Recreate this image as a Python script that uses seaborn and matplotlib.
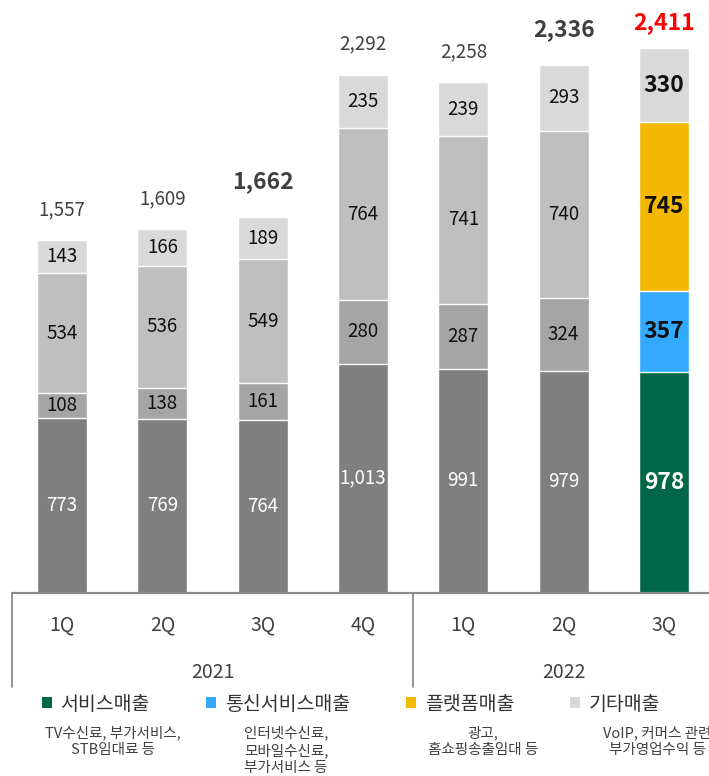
import matplotlib
matplotlib.use("Agg")
import matplotlib.pyplot as plt
from matplotlib.patches import Patch
import seaborn as sns
import pandas as pd
import numpy as np

# ---------------- data ----------------
periods = ["2021 1Q", "2021 2Q", "2021 3Q", "2021 4Q", "2022 1Q", "2022 2Q", "2022 3Q"]
quarter_labels = ["1Q", "2Q", "3Q", "4Q", "1Q", "2Q", "3Q"]
year_labels = ["2021", "2022"]
service = [773, 769, 764, 1013, 991, 979, 978]
telecom = [108, 138, 161, 280, 287, 324, 357]
platform = [534, 536, 549, 764, 741, 740, 745]
other = [143, 166, 189, 235, 239, 293, 330]
totals = [1557, 1609, 1662, 2292, 2258, 2336, 2411]
series_names = ["서비스매출", "통신서비스매출", "플랫폼매출", "기타매출"]
series_notes = ["TV수신료, 부가서비스,\nSTB임대료 등",
                "인터넷수신료,\n모바일수신료,\n부가서비스 등",
                "광고,\n홈쇼핑송출임대 등",
                "VoIP, 커머스 관련\n부가영업수익 등"]

# ---------------- style ----------------
sns.set_theme(style="white")
plt.rcParams["font.family"] = ["Noto Sans CJK KR", "DejaVu Sans"]

grey_cols = ["#7f7f7f", "#a5a5a5", "#bfbfbf", "#d9d9d9"]
hi_cols = ["#006847", "#33aaff", "#f5b800", "#d9d9d9"]
bold_totals = {2, 5}
red_totals = {6}
highlight = 6

W, H = 709, 776
fig = plt.figure(figsize=(W / 100, H / 100), dpi=100)
base_y = 592.5
ax = fig.add_axes([12 / W, (H - base_y) / H, 702 / W, base_y / H])

layers = [service, telecom, platform, other]
cum = np.cumsum(np.array(layers), axis=0)

df = pd.DataFrame({"period": periods})
# draw from the top layer downwards so lower segments overlap the taller bars
for li in range(3, -1, -1):
    df["h"] = cum[li]
    pal = [hi_cols[li] if i == highlight else grey_cols[li] for i in range(len(periods))]
    sns.barplot(data=df, x="period", y="h", hue="period", palette=pal, order=periods,
                hue_order=periods, width=0.5, errorbar=None, legend=False, saturation=1,
                edgecolor="white", linewidth=1.0, ax=ax)

ax.set_xlim(-0.5, 6.5)
ax.set_ylim(0, base_y / ((base_y - 47.7) / 2411))
for s in ax.spines.values():
    s.set_visible(False)
ax.set_ylabel("")
ax.set_xlabel("")
ax.set_yticks([])

# segment labels
for li in range(4):
    for i in range(len(periods)):
        v = layers[li][i]
        bottom = cum[li][i] - v
        emph = i == highlight
        col = "white" if li == 0 else "#111111"
        ax.text(i, bottom + v / 2, f"{v:,}", ha="center", va="center",
                fontsize=16.5 if emph else 13.5,
                fontweight="bold" if emph else "medium", color=col)

# totals
for i, t in enumerate(totals):
    if i in red_totals:
        off, fs, fw, col = 18, 16.5, "bold", "#ff0000"
    elif i in bold_totals:
        off, fs, fw, col = 25, 16.5, "bold", "#404040"
    else:
        off, fs, fw, col = 22, 13.5, "normal", "#404040"
    ax.annotate(f"{t:,}", (i, cum[3][i]), xytext=(0, off), textcoords="offset points",
                ha="center", va="center", fontsize=fs, fontweight=fw, color=col)

# axis line and group separators
line_col = "#8c8c8c"
ax.axhline(0, color=line_col, lw=1.6, clip_on=False, zorder=5)
drop = (687 - base_y) / base_y
for xv in (-0.5, 3.5, 6.5):
    ax.plot([xv, xv], [0, -drop], transform=ax.get_xaxis_transform(), color=line_col,
            lw=1.3, clip_on=False)

ax.set_xticks(range(len(periods)))
ax.set_xticklabels(quarter_labels, fontsize=14, color="#404040")
ax.tick_params(axis="x", length=0, pad=16)

year_y = -(672 - base_y) / base_y
ax.text(1.5, year_y, year_labels[0], transform=ax.get_xaxis_transform(), ha="center",
        va="center", fontsize=14, color="#404040")
ax.text(5.0, year_y, year_labels[1], transform=ax.get_xaxis_transform(), ha="center",
        va="center", fontsize=14, color="#404040")

# legend
handles = [Patch(facecolor=c, edgecolor="none") for c in hi_cols]
fig.legend(handles, series_names, loc="center left", bbox_to_anchor=(42 / W, 1 - 704 / H),
           ncol=4, frameon=False, fontsize=14, handlelength=0.5, handleheight=0.5,
           handletextpad=0.45, columnspacing=2.9, borderpad=0, borderaxespad=0,
           labelcolor="#333333")

note_x = [113, 286, 483, 657]
for nx, note in zip(note_x, series_notes):
    fig.text(nx / W, 1 - 726 / H, note, ha="center", va="top", fontsize=10.5,
             color="#404040", linespacing=1.25)

fig.savefig("out.png", dpi=100)
